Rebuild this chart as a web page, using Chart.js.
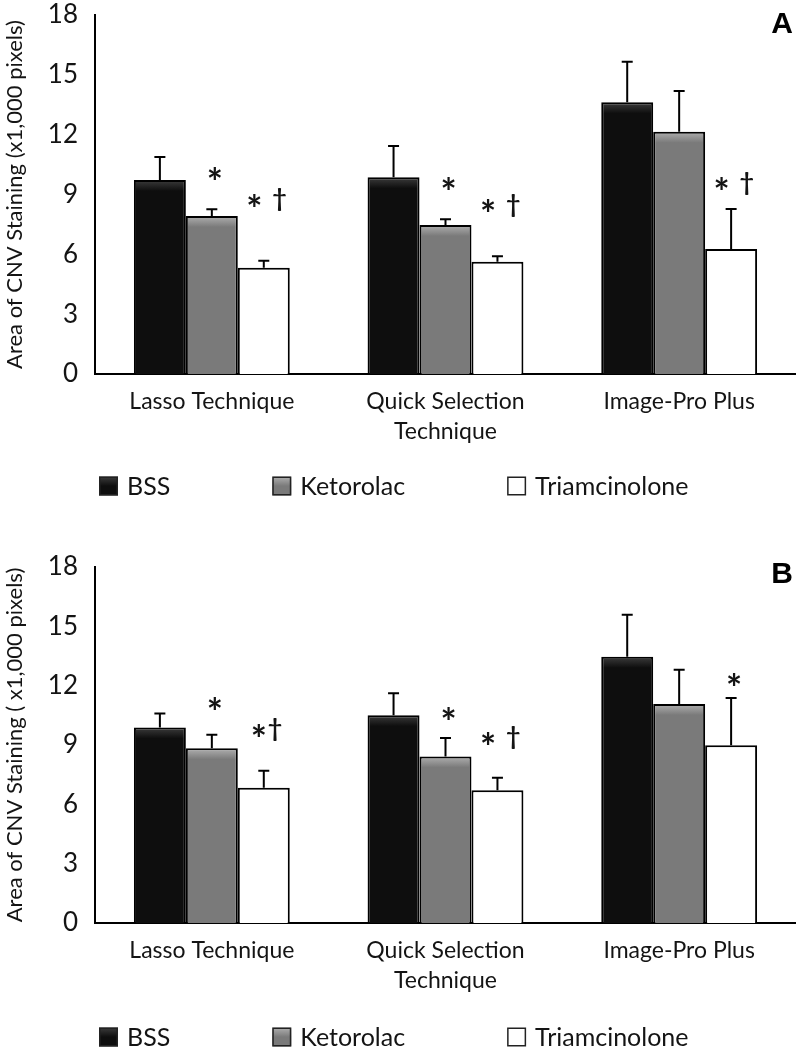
<!DOCTYPE html>
<html lang="en">
<head>
<meta charset="UTF-8">
<title>Area of CNV Staining</title>
<script src="https://cdn.jsdelivr.net/npm/chart.js"></script>
<style>
  body { margin: 0; background: #fff; }
  canvas { display: block; }
</style>
</head>
<body>
<canvas id="chartA" width="796" height="520"></canvas>
<canvas id="chartB" width="796" height="530"></canvas>
<script>
// shared
const categories = ['Lasso Technique', ['Quick Selection', 'Technique'], 'Image-Pro Plus'];
const groups = ['BSS', 'Ketorolac', 'Triamcinolone'];
const yTicks = [0, 3, 6, 9, 12, 15, 18];

// panel A (mean, SD)
const bssA = [9.73, 9.86, 13.62];
const ketA = [7.92, 7.47, 12.15];
const triA = [5.33, 5.63, 6.27];
const bssErrA = [1.15, 1.57, 2.04];
const ketErrA = [0.34, 0.29, 2.04];
const triErrA = [0.35, 0.27, 2.00];
const sigA = [['', '', ''], ['*', '*', ''], ['* †', '* †', '* †']];

// panel B (mean, SD)
const bssB = [9.89, 10.51, 13.46];
const ketB = [8.83, 8.42, 11.07];
const triB = [6.84, 6.71, 8.99];
const bssErrB = [0.70, 1.11, 2.12];
const ketErrB = [0.69, 0.94, 1.73];
const triErrB = [0.86, 0.63, 2.39];
const sigB = [['', '', ''], ['*', '*', ''], ['*†', '* †', '*']];

const FONT = 'Lato, "Open Sans", sans-serif';
const INK = '#141414';
const fills = ['#0e0e0e', '#7a7a7a', '#ffffff'];
const bevels = ['#3c3c3c', '#b0b0b0', '#ffffff'];

// how far above the error cap each significance mark sits (px)
const sigGapA = [[0, 0, 0], [36, 36, 0], [61, 51, 26]];
const sigGapB = [[0, 0, 0], [32, 25, 0], [41, 40, 19]];

function glyphFont(ch) {
  return ch === '*' ? 'bold 38px ' + FONT : 'bold 25px ' + FONT;
}

function inkWidth(ctx, ch) {
  ctx.font = glyphFont(ch);
  const m = ctx.measureText(ch);
  return m.actualBoundingBoxLeft + m.actualBoundingBoxRight;
}

function drawMark(ctx, txt, cx, cy) {
  let total = 0;
  for (const ch of txt) total += ch === ' ' ? 9 : inkWidth(ctx, ch) + 3;
  let x = cx - (total - 3) / 2;
  for (const ch of txt) {
    if (ch === ' ') { x += 9; continue; }
    ctx.font = glyphFont(ch);
    const m = ctx.measureText(ch);
    const w = m.actualBoundingBoxLeft + m.actualBoundingBoxRight;
    const h = m.actualBoundingBoxAscent + m.actualBoundingBoxDescent;
    ctx.fillText(ch, x + m.actualBoundingBoxLeft, cy - h / 2 + m.actualBoundingBoxAscent);
    x += w + 3;
  }
}

function barFill(c) {
  const k = c.datasetIndex;
  const ys = c.chart.scales && c.chart.scales.y;
  if (k === 2 || c.type !== 'data' || !ys) return fills[k];
  const top = ys.getPixelForValue(c.raw);
  if (!isFinite(top)) return fills[k];
  const g = c.chart.ctx.createLinearGradient(0, top, 0, top + 11);
  g.addColorStop(0, bevels[k]);
  g.addColorStop(1, fills[k]);
  return g;
}

function makeChart(id, series, errors, sig, sigGap, yTitle, panel, opt) {
  const errorBars = {
    id: 'errorBars',
    afterDatasetsDraw(chart) {
      const ctx = chart.ctx;
      const y = chart.scales.y;
      ctx.save();
      ctx.strokeStyle = '#000';
      ctx.lineWidth = 2;
      chart.data.datasets.forEach((ds, di) => {
        chart.getDatasetMeta(di).data.forEach((bar, i) => {
          const top = y.getPixelForValue(ds.data[i] + errors[di][i]);
          ctx.beginPath();
          ctx.moveTo(bar.x, bar.y);
          ctx.lineTo(bar.x, top);
          ctx.moveTo(bar.x - 5.5, top);
          ctx.lineTo(bar.x + 5.5, top);
          ctx.stroke();

          const txt = sig[di][i];
          if (!txt) return;
          ctx.fillStyle = INK;
          ctx.textAlign = 'left';
          ctx.textBaseline = 'alphabetic';
          drawMark(ctx, txt, bar.x + 3, top - sigGap[di][i]);
        });
      });
      ctx.restore();
    }
  };

  const legendAndPanel = {
    id: 'legendAndPanel',
    afterDraw(chart) {
      const ctx = chart.ctx;
      const area = chart.chartArea;
      ctx.save();
      const y = area.bottom + opt.legendDrop;
      let x = area.left + 4;
      ctx.font = '25px ' + FONT;
      ctx.textBaseline = 'middle';
      ctx.textAlign = 'left';
      chart.data.datasets.forEach((ds, k) => {
        const g = ctx.createLinearGradient(0, y - 9.5, 0, y + 9.5);
        g.addColorStop(0, bevels[k]);
        g.addColorStop(0.5, fills[k]);
        ctx.fillStyle = g;
        ctx.fillRect(x, y - 9.5, 19, 19);
        ctx.strokeStyle = '#222';
        ctx.lineWidth = 1.5;
        ctx.strokeRect(x + 0.75, y - 8.75, 17.5, 17.5);
        ctx.fillStyle = INK;
        ctx.fillText(ds.label, x + 28, y + 1);
        x += 28 + ctx.measureText(ds.label).width + 102;
      });

      ctx.font = 'bold 30px "Liberation Sans", Arial, sans-serif';
      ctx.fillStyle = '#000';
      ctx.textAlign = 'center';
      ctx.textBaseline = 'middle';
      ctx.fillText(panel, 782, opt.panelY);
      ctx.restore();
    }
  };

  return new Chart(document.getElementById(id), {
    type: 'bar',
    data: {
      labels: categories,
      datasets: groups.map((g, k) => ({
        label: g,
        data: series[k],
        backgroundColor: barFill,
        borderColor: '#000',
        borderWidth: 2
      }))
    },
    options: {
      responsive: false,
      animation: false,
      layout: { padding: { top: opt.padTop, bottom: opt.padBottom, left: 0, right: 0 } },
      datasets: { bar: { categoryPercentage: 0.667, barPercentage: 1 } },
      plugins: { legend: { display: false }, tooltip: { enabled: false } },
      scales: {
        x: {
          grid: { display: false, drawTicks: false },
          border: { color: '#000', width: 2 },
          ticks: { font: { family: FONT, size: 23, lineHeight: 1.3 }, color: INK, padding: 13, maxRotation: 0 },
          afterFit(s) { s.height = 80; s.paddingLeft = 0; s.paddingRight = 0; }
        },
        y: {
          min: 0,
          max: 18,
          afterBuildTicks(s) { s.ticks = yTicks.map(v => ({ value: v })); },
          grid: { display: false, drawTicks: false },
          border: { color: '#000', width: 2 },
          ticks: { font: { family: FONT, size: 26 }, color: INK, padding: 17 },
          title: { display: true, text: yTitle, font: { family: FONT, size: 22 }, color: INK, padding: { top: 2, bottom: 0 } },
          afterFit(s) { s.width = 95; s.paddingTop = 0; s.paddingBottom = 0; }
        }
      }
    },
    plugins: [errorBars, legendAndPanel]
  });
}

makeChart('chartA', [bssA, ketA, triA], [bssErrA, ketErrA, triErrA], sigA, sigGapA,
  'Area of CNV Staining (x1,000 pixels)', 'A',
  { padTop: 15, padBottom: 66, legendDrop: 112, panelY: 25 });

makeChart('chartB', [bssB, ketB, triB], [bssErrB, ketErrB, triErrB], sigB, sigGapB,
  'Area of CNV Staining ( x1,000 pixels)', 'B',
  { padTop: 47, padBottom: 47, legendDrop: 114, panelY: 55 });
</script>
</body>
</html>
